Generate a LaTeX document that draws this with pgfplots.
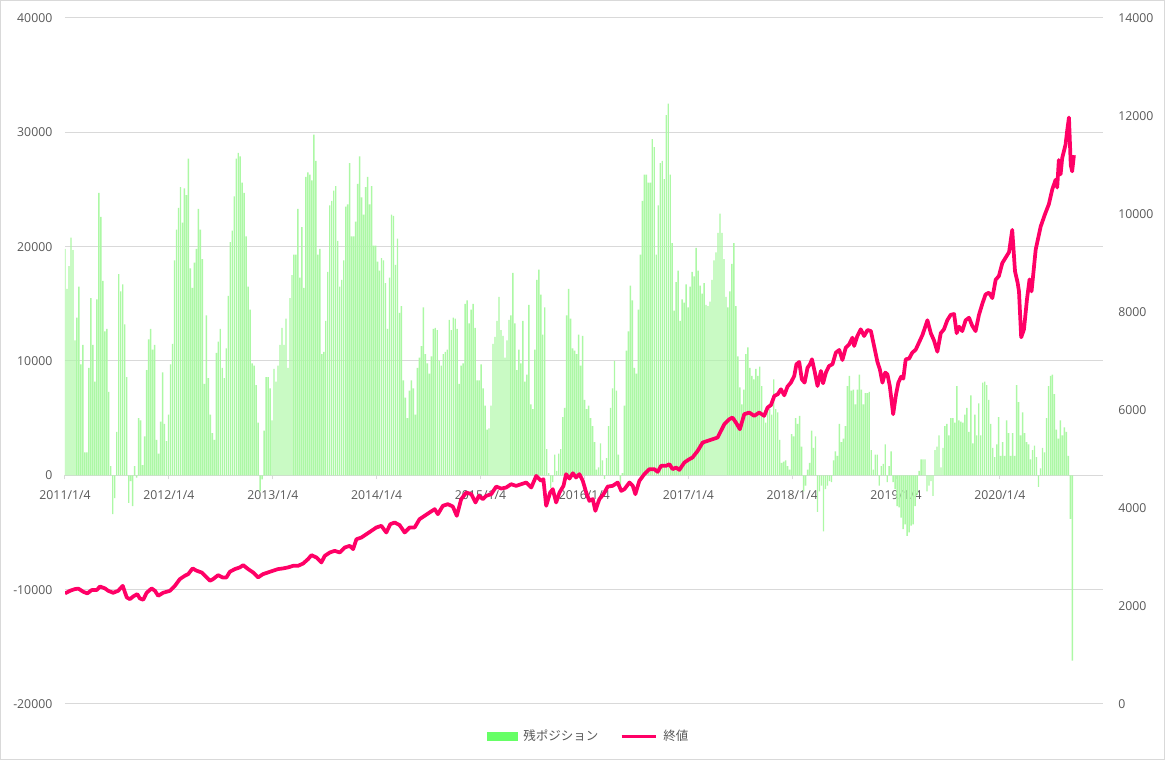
\documentclass[border=0pt]{standalone}
\usepackage{fontspec}
\setmainfont{Open Sans}
\newfontfamily\cjk{Noto Sans CJK JP}
\usepackage{pgfplots}
\pgfplotsset{compat=1.18}
\definecolor{barcol}{RGB}{102,255,102}
\definecolor{barfill}{RGB}{172,248,165}
\definecolor{linecol}{RGB}{255,0,102}
\definecolor{gridc}{RGB}{217,217,217}
\definecolor{labc}{RGB}{89,89,89}
\begin{document}
\begin{tikzpicture}
\path[use as bounding box] (0,0) rectangle (873.75pt,570pt);
\draw[gridc, line width=0.75pt] (0.375pt,0.375pt) rectangle (873.375pt,569.625pt);
\begin{axis}[
 at={(48.75pt,42pt)}, anchor=south west,
 scale only axis, width=778.5pt, height=514.5pt,
 xmin=0, xmax=521.4, ymin=-20000, ymax=40000,
 axis x line*=middle, axis y line*=left,
 hide obscured x ticks=false,
 y axis line style={draw=none},
 x axis line style={gridc, line width=0.75pt},
 ytick={-20000,-10000,0,10000,20000,30000,40000},
 yticklabels={-20000,-10000,0,10000,20000,30000,40000},
 scaled y ticks=false,
 ymajorgrids, grid style={gridc, line width=0.75pt},
 ytick style={draw=none},
 xtick={0,52.14,104.43,156.57,208.71,260.86,313.14,365.29,417.43,469.57},
 xticklabels={2011/1/4,2012/1/4,2013/1/4,2014/1/4,2015/1/4,2016/1/4,2017/1/4,2018/1/4,2019/1/4,2020/1/4},
 xtick style={gridc, line width=0.75pt}, xtick align=outside, major tick length=3pt,
 tick label style={font=\fontsize{9.2}{11}\selectfont, text=labc},
 yticklabel style={xshift=-6pt},
 xticklabel style={yshift=-5pt},
]
\addplot[ybar, bar width=1.05pt, fill=barfill, draw=none] coordinates {
(0,19800)(1,16300)(2,18300)(3,20800)(4,19700)(5,11800)(6,13800)(7,16500)(8,9700)(9,11400)
(10,2000)(11,2000)(12,9400)(13,15500)(14,11400)(15,8200)(16,15400)(17,24700)(18,22600)(19,17000)
(20,12600)(21,12800)(22,7300)(23,800)(24,-3400)(25,-2000)(26,3800)(27,17600)(28,16100)(29,16700)
(30,13200)(31,8600)(32,-2400)(33,-500)(34,-2700)(35,800)(36,-200)(37,5000)(38,4800)(39,900)
(40,3400)(41,9200)(42,11900)(43,12800)(44,11000)(45,11400)(46,3100)(47,1900)(48,4700)(49,9000)
(50,4500)(51,3000)(52,5300)(53,9700)(54,11500)(55,18800)(56,21500)(57,23400)(58,25200)(59,22100)
(60,25100)(61,24500)(62,27700)(63,18100)(64,16400)(65,18600)(66,19800)(67,23300)(68,21500)(69,18900)
(70,8000)(71,14000)(72,8500)(73,5300)(74,3700)(75,3100)(76,10700)(77,11700)(78,12800)(79,9400)
(80,8500)(81,11100)(82,15700)(83,20400)(84,21400)(85,24400)(86,27700)(87,28200)(88,27900)(89,25600)
(90,24700)(91,20900)(92,16500)(93,14500)(94,9800)(95,9600)(96,7900)(97,4600)(98,-1400)(99,-350)
(100,3900)(101,8600)(102,8600)(103,7600)(104,4800)(105,9300)(106,8200)(107,9600)(108,11400)(109,12900)
(110,11400)(111,13700)(112,9400)(113,15500)(114,17500)(115,19300)(116,19300)(117,23300)(118,17300)(119,21700)
(120,16400)(121,26100)(122,26500)(123,26300)(124,25800)(125,29800)(126,27500)(127,19300)(128,19800)(129,10600)
(130,10800)(131,13500)(132,17800)(133,23600)(134,24000)(135,24900)(136,25300)(137,20500)(138,16500)(139,17100)
(140,18800)(141,23500)(142,23700)(143,27300)(144,20900)(145,20900)(146,22200)(147,25500)(148,27900)(149,24300)
(150,22800)(151,25200)(152,26100)(153,23700)(154,25300)(155,20100)(156,20100)(157,18700)(158,17900)(159,19000)
(160,18800)(161,16800)(162,12800)(163,17300)(164,22800)(165,22700)(166,18400)(167,20700)(168,14200)(169,14800)
(170,8300)(171,6800)(172,5000)(173,7400)(174,8300)(175,7600)(176,5300)(177,9400)(178,10300)(179,11300)
(180,14700)(181,10600)(182,9800)(183,8900)(184,10400)(185,12800)(186,12900)(187,12700)(188,10000)(189,9600)
(190,10600)(191,10800)(192,11000)(193,13600)(194,12700)(195,13800)(196,13700)(197,12800)(198,8000)(199,9600)
(200,9800)(201,15000)(202,15300)(203,13300)(204,14500)(205,15000)(206,12900)(207,8300)(208,8300)(209,9700)
(210,7600)(211,6100)(212,4000)(213,4100)(214,6100)(215,11500)(216,12100)(217,13500)(218,15600)(219,12700)
(220,12200)(221,10300)(222,11800)(223,13600)(224,14000)(225,17700)(226,13300)(227,9200)(228,11000)(229,9800)
(230,13500)(231,8200)(232,8800)(233,14900)(234,6200)(235,5800)(236,11000)(237,17100)(238,18000)(239,15800)
(240,12300)(241,14700)(242,2300)(243,200)(244,-1100)(245,-600)(246,1800)(247,400)(248,1900)(249,2300)
(250,5100)(251,5900)(252,14000)(253,16300)(254,13700)(255,11100)(256,10900)(257,10600)(258,12300)(259,9600)
(260,12200)(261,6600)(262,5800)(263,6100)(264,5000)(265,4300)(266,2900)(267,500)(268,700)(269,2800)
(270,1300)(271,-300)(272,1500)(273,4300)(274,5900)(275,7600)(276,10000)(277,7400)(278,1800)(279,-900)
(280,200)(281,6100)(282,10900)(283,12600)(284,16600)(285,15300)(286,9400)(287,8900)(288,14500)(289,19300)
(290,24000)(291,26300)(292,26300)(293,25600)(294,25600)(295,29400)(296,28700)(297,19300)(298,23600)(299,27300)
(300,27500)(301,25900)(302,31500)(303,32500)(304,26300)(305,20300)(306,14400)(307,16900)(308,17900)(309,13500)
(310,15400)(311,15100)(312,16700)(313,14700)(314,16500)(315,17800)(316,17400)(317,19900)(318,17900)(319,16600)
(320,15900)(321,16800)(322,14900)(323,14800)(324,15200)(325,17100)(326,18800)(327,19500)(328,21200)(329,22900)
(330,21200)(331,18900)(332,15600)(333,14700)(334,16100)(335,18500)(336,20300)(337,14800)(338,10400)(339,7700)
(340,6200)(341,7500)(342,10600)(343,11200)(344,9400)(345,8700)(346,8400)(347,9300)(348,8700)(349,9500)
(350,7800)(351,5300)(352,4600)(353,5600)(354,5800)(355,5300)(356,8400)(357,5800)(358,5500)(359,3100)
(360,1100)(361,1200)(362,1300)(363,800)(364,500)(365,3600)(366,3400)(367,5000)(368,4500)(369,5200)
(370,2500)(371,-1400)(372,-900)(373,500)(374,1100)(375,3900)(376,2400)(377,3400)(378,-3200)(379,-1400)
(380,-900)(381,-4900)(382,-1200)(383,-900)(384,-500)(385,-600)(386,1300)(387,2100)(388,1700)(389,4500)
(390,2900)(391,3200)(392,4300)(393,7800)(394,8700)(395,7400)(396,7500)(397,6200)(398,7500)(399,8800)
(400,7500)(401,6200)(402,7200)(403,7200)(404,7300)(405,2200)(406,500)(407,1800)(408,1800)(409,-900)
(410,800)(411,1000)(412,2700)(413,-600)(414,800)(415,2100)(416,-600)(417,-1200)(418,-2700)(419,-2800)
(420,-3700)(421,-4700)(422,-4300)(423,-5300)(424,-5000)(425,-4400)(426,-4300)(427,-2700)(428,-1700)(429,400)
(430,1400)(431,1400)(432,1400)(433,-1400)(434,-900)(435,-500)(436,-1800)(437,2200)(438,2500)(439,3500)
(440,700)(441,2400)(442,4300)(443,4500)(444,3500)(445,5000)(446,5000)(447,4600)(448,7800)(449,4800)
(450,4700)(451,4600)(452,5300)(453,5900)(454,3800)(455,7000)(456,2800)(457,5300)(458,3500)(459,6300)
(460,3500)(461,8100)(462,8200)(463,7900)(464,6600)(465,4500)(466,2400)(467,1600)(468,2700)(469,5100)
(470,1700)(471,2900)(472,1700)(473,4800)(474,3700)(475,1700)(476,3700)(477,1700)(478,7900)(479,6400)
(480,3500)(481,5500)(482,3700)(483,2900)(484,2700)(485,1400)(486,2200)(487,2600)(488,1600)(489,-1000)
(490,600)(491,2400)(492,2000)(493,5000)(494,7800)(495,8700)(496,8800)(497,7100)(498,4000)(499,3200)
(500,4800)(501,3500)(502,4200)(503,3800)(504,1700)(505,-3800)(506,-16200)
};
\end{axis}
\begin{axis}[
 at={(48.75pt,42pt)}, anchor=south west,
 scale only axis, width=778.5pt, height=514.5pt,
 xmin=0, xmax=521.4, ymin=0, ymax=14000,
 axis x line=none, axis y line*=right,
 y axis line style={draw=none},
 ytick={0,2000,4000,6000,8000,10000,12000,14000},
 yticklabels={0,2000,4000,6000,8000,10000,12000,14000},
 scaled y ticks=false,
 ytick style={draw=none},
 tick label style={font=\fontsize{9.2}{11}\selectfont, text=labc},
 yticklabel style={xshift=8pt},
 legend columns=2,
 legend style={draw=none, fill=none, at={(0.505,-0.047)}, anchor=center,
   font=\fontsize{9.4}{11}\selectfont, text=labc,
   /tikz/every odd column/.append style={column sep=2pt},
   /tikz/every even column/.append style={column sep=14pt}},
]
\addlegendimage{legend image code/.code={\fill[barcol] (0pt,-2.9pt) rectangle (22.5pt,2.9pt);}}
\addlegendentry{\cjk 残ポジション}
\addplot[linecol, line width=2.8pt, line join=round,
 legend image code/.code={\draw[linecol,line width=2.6pt] (0pt,0pt) -- (26pt,0pt);}] coordinates {
(0,2257)(2.5,2310)(5.0,2345)(6.7,2355)(9.2,2290)(11.2,2257)(13.4,2325)(15.9,2325)(17.6,2398)(20.1,2358)
(21.7,2310)(24.2,2270)(26.7,2310)(29.0,2412)(31.0,2175)(32.6,2140)(34.3,2195)(36.3,2243)(37.6,2155)(39.3,2127)
(41.0,2270)(43.5,2358)(45.2,2310)(46.8,2208)(49.3,2270)(52.7,2310)(55.2,2412)(57.7,2549)(60.2,2617)(61.9,2651)
(64.1,2767)(66.1,2720)(68.6,2685)(70.3,2617)(72.8,2515)(74.4,2549)(76.9,2630)(79.1,2583)(81.1,2583)(82.8,2698)
(85.3,2753)(87.8,2787)(89.5,2834)(92.0,2753)(94.5,2685)(97.0,2583)(99.5,2651)(102.0,2685)(104.5,2720)(107.0,2753)
(109.5,2767)(112.0,2787)(114.6,2820)(117.1,2820)(119.6,2867)(122.1,2957)(123.8,3038)(126.3,2990)(128.8,2889)(130.5,3024)
(133.0,3092)(135.5,3126)(138.0,3092)(140.5,3194)(143.0,3228)(144.7,3160)(146.4,3364)(148.9,3398)(151.4,3466)(153.9,3534)
(156.4,3602)(158.9,3636)(161.4,3500)(163.4,3670)(165.6,3704)(168.1,3650)(170.6,3500)(173.1,3602)(175.6,3602)(178.1,3772)
(180.6,3840)(183.1,3908)(185.7,3976)(187.3,3874)(189.8,4044)(192.3,4078)(194.8,4030)(196.8,3840)(199.0,4180)(201.6,4316)
(204.1,4282)(206.2,4112)(207.9,4248)(209.9,4180)(211.6,4248)(214.1,4282)(216.6,4437)(219.1,4397)(221.6,4418)(224.1,4486)
(226.6,4452)(229.2,4486)(231.7,4520)(234.2,4418)(236.7,4655)(239.2,4554)(240.3,4588)(241.7,4044)(243.7,4316)(245.0,4384)
(246.7,4112)(248.4,4316)(250.4,4452)(251.7,4690)(253.4,4600)(255.1,4710)(256.7,4622)(258.4,4690)(260.1,4554)(261.8,4316)
(263.4,4146)(265.1,4180)(266.4,3942)(268.4,4180)(270.5,4282)(272.6,4437)(275.1,4452)(277.6,4520)(279.4,4350)(281.0,4384)
(283.5,4520)(285.2,4452)(286.5,4282)(288.5,4554)(291.0,4690)(293.5,4792)(296.0,4792)(297.7,4738)(299.4,4860)(301.9,4860)
(303.6,4894)(305.2,4792)(306.9,4826)(308.6,4778)(311.1,4928)(313.6,4996)(315.2,5030)(317.8,5166)(320.3,5336)(322.8,5370)
(325.3,5404)(327.8,5438)(329.5,5574)(331.2,5710)(333.7,5812)(335.3,5846)(337.0,5744)(339.0,5608)(341.2,5914)(343.7,5948)
(346.2,5880)(348.7,5948)(351.2,5880)(352.9,6050)(354.6,6100)(356.3,6287)(358.0,6321)(359.6,6423)(361.3,6300)(362.9,6477)
(364.6,6558)(366.3,6694)(367.4,6933)(368.8,6980)(370.1,6627)(371.5,6558)(373.0,6865)(374.2,6933)(375.2,7035)(376.5,6797)
(378.0,6490)(379.7,6797)(380.8,6545)(382.2,6763)(383.8,6899)(385.5,6933)(387.2,7171)(388.9,7225)(390.5,7020)(392.2,7273)
(393.9,7340)(395.5,7476)(396.4,7307)(398.0,7510)(399.7,7646)(401.4,7510)(403.1,7632)(404.8,7612)(406.4,7307)(408.1,6980)
(409.3,6831)(410.6,6558)(412.0,6763)(413.1,6729)(414.3,6490)(416.0,5914)(417.3,6287)(418.6,6558)(420.0,6680)(421.1,6640)
(422.3,7035)(424.0,7050)(425.6,7171)(427.3,7230)(429.0,7380)(430.7,7530)(433.2,7832)(434.9,7568)(436.5,7420)(438.2,7190)
(439.9,7568)(441.5,7646)(443.2,7832)(444.9,7943)(446.6,7958)(447.9,7568)(449.1,7700)(450.7,7610)(452.4,7832)(454.1,7883)
(455.7,7720)(457.4,7610)(459.1,7943)(460.8,8170)(462.4,8358)(464.1,8395)(465.8,8284)(467.5,8660)(469.1,8733)(470.8,8998)
(472.5,9110)(474.2,9222)(475.8,9675)(477.2,8830)(478.5,8600)(479.2,8420)(480.3,7483)(481.7,7646)(483.2,8258)(484.5,8665)
(485.5,8420)(487.6,9277)(490.1,9746)(492.2,9990)(494.2,10200)(495.9,10500)(497.6,10700)(498.4,10540)(499.2,11100)(500.1,10810)
(500.9,11140)(502.6,11420)(503.4,11700)(504.3,11970)(505.2,11000)(505.9,10870)(506.8,11200)
};
\addlegendentry{\cjk 終値}
\end{axis}
\end{tikzpicture}
\end{document}
